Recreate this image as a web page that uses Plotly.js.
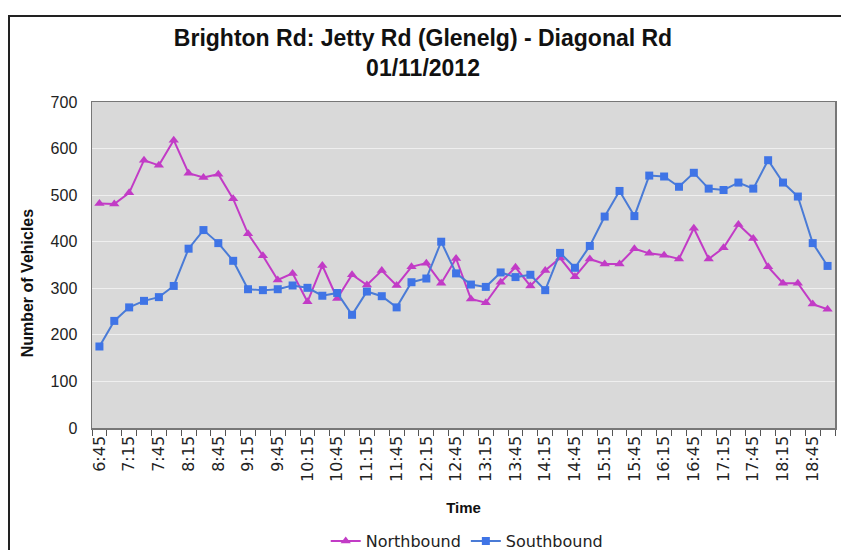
<!DOCTYPE html>
<html>
<head>
<meta charset="utf-8">
<script src="https://cdn.plot.ly/plotly-3.0.1.min.js"></script>
<style>
  html, body { margin: 0; padding: 0; background: #fff; overflow: hidden; width: 841px; height: 550px; }
  #frame { position: absolute; left: 8px; top: 15px; width: 900px; height: 600px; border: 2px solid #222; box-sizing: border-box; pointer-events: none; }
  #chart { position: absolute; left: 0; top: 0; width: 841px; height: 565px; }
</style>
</head>
<body>
<div id="chart"></div>
<div id="frame"></div>
<script>
const times = ["6:45","7:00","7:15","7:30","7:45","8:00","8:15","8:30","8:45","9:00",
  "9:15","9:30","9:45","10:00","10:15","10:30","10:45","11:00","11:15","11:30",
  "11:45","12:00","12:15","12:30","12:45","13:00","13:15","13:30","13:45","14:00",
  "14:15","14:30","14:45","15:00","15:15","15:30","15:45","16:00","16:15","16:30",
  "16:45","17:00","17:15","17:30","17:45","18:00","18:15","18:30","18:45","19:00"];

const northbound = [482,481,505,575,564,618,547,538,545,492,
  417,370,318,332,271,349,278,329,307,338,
  306,346,354,311,364,277,269,313,345,305,
  338,365,325,363,352,352,385,375,371,363,
  429,363,387,437,407,346,311,311,266,255];

const southbound = [175,230,259,273,281,305,385,425,397,359,
  298,296,298,306,301,284,290,243,293,283,
  259,313,321,400,332,308,303,334,324,329,
  296,376,344,391,454,509,455,542,540,518,
  548,514,511,527,514,575,527,497,397,348];

// every other time label is shown
const tickText = times.map((t, i) => (i % 2 === 0 ? t : ""));

const H = 565;
const traces = [
  {
    x: times, y: northbound, name: "Northbound", type: "scatter", mode: "lines+markers",
    line: { color: "#c23bc6", width: 2 },
    marker: { symbol: "triangle-up", size: 9, color: "#c23bc6" }
  },
  {
    x: times, y: southbound, name: "Southbound", type: "scatter", mode: "lines+markers",
    line: { color: "#4a7bd6", width: 2 },
    marker: { symbol: "square", size: 8, color: "#3f74e6" }
  }
];

const layout = {
  width: 841, height: H,
  margin: { l: 92, r: 6, t: 102, b: H - 428 },
  paper_bgcolor: "#ffffff",
  plot_bgcolor: "#d9d9d9",
  font: { family: "Liberation Sans, Arial, sans-serif", color: "#222" },
  title: {
    text: "<b>Brighton Rd: Jetty Rd (Glenelg) - Diagonal Rd<br>01/11/2012</b>",
    font: { family: "Liberation Sans, Arial, sans-serif", size: 23, color: "#111" },
    x: 0.503, xref: "container", xanchor: "center",
    y: 1 - 46 / H, yref: "container", yanchor: "middle"
  },
  xaxis: {
    type: "category",
    tickmode: "array", tickvals: times, ticktext: tickText,
    tickson: "boundaries", ticks: "outside", ticklen: 6, tickcolor: "#555",
    tickangle: -90,
    tickfont: { size: 16, color: "#222", family: "DejaVu Sans, Verdana, sans-serif" },
    showgrid: false, showline: true, linecolor: "#777", linewidth: 1.5, mirror: true,
    range: [-0.5, times.length - 0.5],
    title: { text: "<b>Time</b>", font: { size: 15, color: "#111" }, standoff: 21 }
  },
  yaxis: {
    range: [0, 700], dtick: 100, tick0: 0,
    tickfont: { size: 16, color: "#222", family: "Liberation Sans Narrow, Liberation Sans, Arial, sans-serif" },
    showgrid: true, gridcolor: "#efefef", gridwidth: 1,
    showline: true, linecolor: "#777", linewidth: 1.5, mirror: true,
    ticks: "", ticklabelstandoff: 10, zeroline: false
  },
  annotations: [
    {
      text: "<b>Number of Vehicles</b>", textangle: -90,
      xref: "paper", yref: "paper", x: -0.087, y: (428 - 283) / 326,
      xanchor: "center", yanchor: "middle", showarrow: false,
      font: { size: 16, color: "#111", family: "Liberation Sans, Arial, sans-serif" }
    }
  ],
  legend: {
    orientation: "h", x: 0.505, xanchor: "center", y: -(541 - 428) / 326, yanchor: "middle",
    font: { size: 16, color: "#222", family: "DejaVu Sans, Verdana, sans-serif" },
    bgcolor: "rgba(0,0,0,0)", itemwidth: 30
  },
  showlegend: true
};

Plotly.newPlot("chart", traces, layout, { displayModeBar: false, staticPlot: true });
</script>
</body>
</html>
